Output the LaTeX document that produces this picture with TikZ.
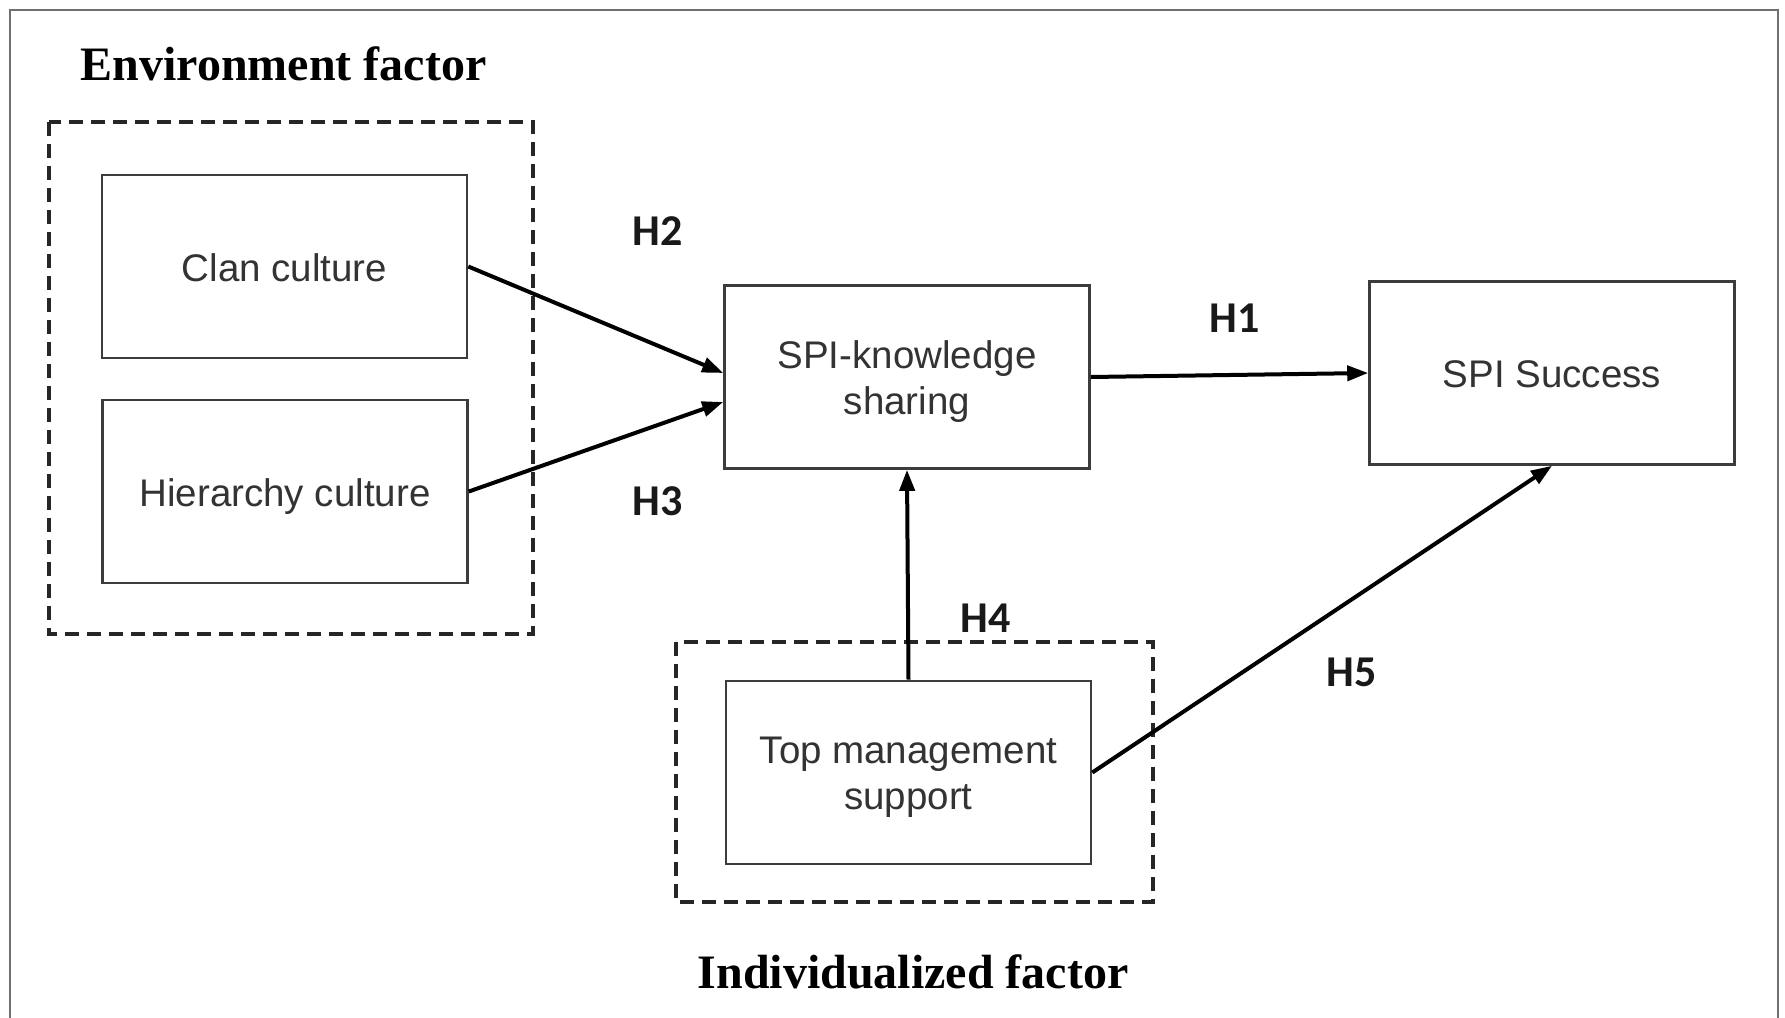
\documentclass[tikz,border=0pt]{standalone}
\usepackage{fontspec}
\setmainfont{Liberation Serif}
\setsansfont{Liberation Sans}
\newfontfamily\labelfont{Carlito}
\usetikzlibrary{arrows.meta,calc}

\definecolor{boxline}{HTML}{3C3C3C}
\definecolor{boxtext}{HTML}{333333}
\definecolor{frameline}{HTML}{707070}

\tikzset{
  factorbox/.style={draw=boxline, line width=1.3pt, fill=white,
    minimum width=182.5pt, minimum height=91.5pt, inner sep=0pt,
    align=center, text=boxtext, text height=14.5pt, text depth=0pt,
    font=\sffamily\fontsize{19.25}{23}\selectfont},
  twoline/.style={text height=37pt, text depth=0pt},
  groupbox/.style={draw=black!85, line width=2pt,
    dash pattern=on 7pt off 4pt},
  grouptitle/.style={font=\bfseries\fontsize{24}{28}\selectfont, anchor=base},
  hyplabel/.style={font=\labelfont\bfseries\fontsize{22}{26}\selectfont, text=black!90},
  link/.style={draw=black, line width=2pt,
    -{Triangle[length=10.5pt,width=7.5pt]}},
}

\begin{document}
\begin{tikzpicture}[x=0.5pt,y=-0.5pt]
  \useasboundingbox (0,0) rectangle (1785,1018);
  \fill[white] (0,0) rectangle (1785,1018);

  % outer frame, open at the bottom
  \draw[frameline, line width=1.3pt] (10,1018) -- (10,10) -- (1778,10) -- (1778,1018);

  % factor groupings
  \draw[groupbox] (49,122) rectangle (533,634);
  \draw[groupbox] (676,642) rectangle (1153,902);

  \node[grouptitle] (envtitle) at (283.5,80) {Environment factor};
  \node[grouptitle] (indtitle) at (913,988) {Individualized factor};

  % constructs
  \node[factorbox] (clan) at (284.5,266.5) {Clan culture};
  \node[factorbox] (hier) at (285,491.5) {Hierarchy culture};
  \node[factorbox, twoline] (spik) at (907,377) {SPI-knowledge\\sharing};
  \node[factorbox] (spis) at (1552,373) {SPI Success};
  \node[factorbox, twoline] (top)  at (908.5,772.5) {Top management\\support};

  % hypotheses
  \draw[link] (clan.east) -- ($(spik.west)+(0,-4)$);
  \draw[link] (hier.east) -- ($(spik.west)+(0,25)$);
  \draw[link] (spik.east) -- (spis.west);
  \draw[link] (top.north) -- (spik.south);
  \draw[link] (top.east) -- (spis.south);

  \node[hyplabel] (h2) at (658,231) {H2};
  \node[hyplabel] (h3) at (658,501) {H3};
  \node[hyplabel] (h1) at (1235,318) {H1};
  \node[hyplabel] (h4) at (986,618) {H4};
  \node[hyplabel] (h5) at (1352,672) {H5};
\end{tikzpicture}
\end{document}
